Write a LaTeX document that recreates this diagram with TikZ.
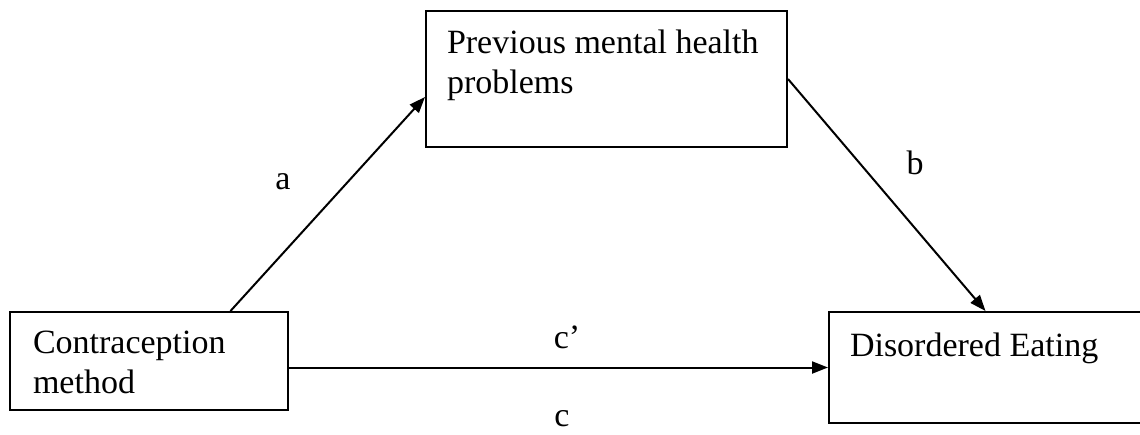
\documentclass[tikz,border=0pt]{standalone}
\usepackage{fontspec}
\setmainfont{Liberation Serif}
\usetikzlibrary{arrows.meta,positioning,calc}

\begin{document}
\begin{tikzpicture}[x=0.5pt, y=-0.5pt,
    varbox/.style={rectangle, draw, line width=1pt, inner sep=0pt},
    txt/.style={anchor=north west, inner sep=0pt, align=left, font=\fontsize{17}{20}\selectfont},
    lbl/.style={inner sep=0pt, font=\fontsize{17}{20}\selectfont},
    >={Triangle[length=8pt, width=6pt]}, line width=1pt
]
    \useasboundingbox (0,0) rectangle (1140,434);

    \node[varbox, minimum width=139pt, minimum height=49pt] (method) at (149,361) {};
    \node[varbox, minimum width=180.5pt, minimum height=68pt] (mental) at (606.5,79) {};
    \node[varbox, minimum width=156.5pt, minimum height=55.5pt] (eating) at (985.5,367.5) {};

    % Texts
    \node[txt] (methodtxt) at (32,330) {Contraception\\method};
    \node[txt] (mentaltxt) at (446,29) {Previous mental health\\problems};
    \node[txt] (eatingtxt) at (849,332) {Disordered Eating};

    \draw[->] ($(method.north west)!0.791!(method.north east)$) -- ([yshift=-9pt]mental.west);
    \draw[->] (mental.east) -- (eating.north);
    \draw[->] (method.east |- eating.west) -- (eating.west);

    % Labels
    \node[lbl] (la) at (283,182) {a};
    \node[lbl] (lb) at (915,163) {b};
    \node[lbl] (lcp) at (567,337) {c’};
    \node[lbl] (lc) at (562,419) {c};
\end{tikzpicture}
\end{document}
